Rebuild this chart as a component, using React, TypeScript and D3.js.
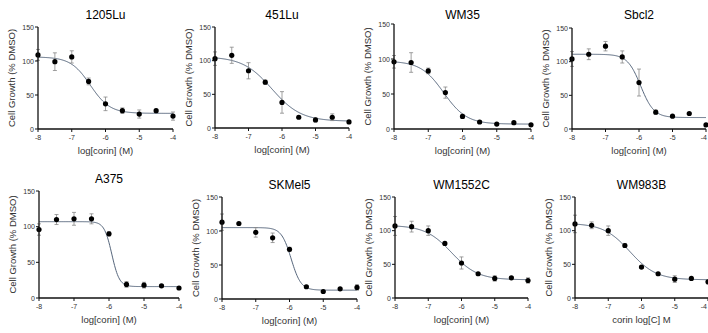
import React from 'react';
import * as d3 from 'd3';

// log concentrations (M)
const doses = [-8, -7.5, -7, -6.5, -6, -5.5, -5, -4.5, -4];
const xTicks = [-8, -7, -6, -5, -4];
const yTicks = [0, 50, 100, 150];

const cellLines = ['1205Lu', '451Lu', 'WM35', 'Sbcl2', 'A375', 'SKMel5', 'WM1552C', 'WM983B'];
const xLabels = ['log[corin] (M)', 'log[corin] (M)', 'log[corin] (M)', 'log[corin] (M)',
  'log[corin] (M)', 'log[corin] (M)', 'log[corin] (M)', 'corin log[C] M'];

// mean growth (% DMSO) per dose
const means = [
  [109, 99, 106, 70, 37, 27, 22, 27, 19],
  [103, 108, 85, 68, 38, 16, 12, 16, 9],
  [96, 95, 83, 52, 18, 10, 7, 9, 6],
  [104, 111, 123, 107, 69, 25, 19, 23, 6],
  [96, 110, 111, 111, 90, 19, 18, 17, 14],
  [113, 111, 98, 90, 73, 18, 11, 15, 17],
  [107, 106, 100, 81, 52, 36, 29, 30, 26],
  [110, 108, 100, 78, 46, 36, 28, 29, 24],
];
// SEM
const errors = [
  [8, 13, 9, 5, 10, 4, 6, 2, 6],
  [10, 12, 12, 3, 16, 2, 3, 5, 2],
  [9, 14, 4, 8, 3, 2, 1, 1, 1],
  [11, 8, 7, 9, 20, 3, 1, 1, 1],
  [8, 7, 9, 7, 3, 4, 4, 2, 1],
  [12, 1, 7, 7, 3, 2, 1, 1, 4],
  [14, 8, 7, 2, 9, 2, 4, 2, 4],
  [13, 5, 7, 3, 2, 2, 5, 1, 3],
];
// 4-parameter fit: [top, bottom, logIC50, hill]
const fits = [
  [106, 23, -6.45, 1.5],
  [106, 10, -6.3, 1.0],
  [97, 7, -6.55, 1.3],
  [111, 17, -5.95, 2.2],
  [107, 16, -5.92, 4.0],
  [105, 13, -5.95, 3.0],
  [108, 27, -6.3, 1.1],
  [111, 27, -6.35, 1.1],
];

// plot area boxes [left, right, top, bottom]
const boxes = [
  [38, 173, 27, 129],
  [215, 349, 27, 128],
  [394, 531, 24, 129],
  [572, 706, 28, 129],
  [39, 179, 191, 298],
  [222, 357, 197, 299],
  [395, 528, 197, 298],
  [575, 708, 197, 298],
];

const font = 'Liberation Sans, Arial, sans-serif';

function Panel({ i }: { i: number }) {
  const [L, R, T, B] = boxes[i];
  const x = d3.scaleLinear().domain([-8, -4]).range([L, R]);
  const y = d3.scaleLinear().domain([0, 150]).range([B, T]);
  const [top, bottom, ic50, hill] = fits[i];
  const curveX = d3.range(-8, -3.999, 0.02);
  const line = d3.line<number>()
    .x(d => x(d))
    .y(d => y(bottom + (top - bottom) / (1 + Math.pow(10, (d - ic50) * hill))));
  const cx = (L + R) / 2;
  const titleY = i < 4 ? 19 : (i === 4 ? 183 : 189);
  return (
    <g fontFamily={font}>
      <text x={cx} y={titleY} textAnchor="middle" fontSize={12}>{cellLines[i]}</text>
      <text transform={`translate(${L - 23},${(T + B) / 2}) rotate(-90)`} textAnchor="middle"
        fontSize={9.5} fill="#333">Cell Growth (% DMSO)</text>
      <text x={cx} y={B + 25} textAnchor="middle" fontSize={9.5} fill="#333">{xLabels[i]}</text>
      <path d={line(curveX) || ''} fill="none" stroke="#56667c" strokeWidth={1} />
      {doses.map((d, j) => (
        <g key={j}>
          <line x1={x(d)} x2={x(d)} y1={y(means[i][j] - errors[i][j])} y2={y(means[i][j] + errors[i][j])}
            stroke="#888" strokeWidth={0.8} />
          <line x1={x(d) - 2} x2={x(d) + 2} y1={y(means[i][j] - errors[i][j])} y2={y(means[i][j] - errors[i][j])}
            stroke="#888" strokeWidth={0.8} />
          <line x1={x(d) - 2} x2={x(d) + 2} y1={y(means[i][j] + errors[i][j])} y2={y(means[i][j] + errors[i][j])}
            stroke="#888" strokeWidth={0.8} />
          <circle cx={x(d)} cy={y(means[i][j])} r={2.6} fill="#000" />
        </g>
      ))}
      <line x1={L} x2={L} y1={T} y2={B} stroke="#111" strokeWidth={1.3} />
      <line x1={L} x2={R} y1={B} y2={B} stroke="#111" strokeWidth={1.3} />
      {yTicks.map(t => (
        <g key={t}>
          <line x1={L - 3} x2={L} y1={y(t)} y2={y(t)} stroke="#111" strokeWidth={1} />
          <text x={L - 4} y={y(t) + 2.5} textAnchor="end" fontSize={7} fill="#333">{t}</text>
        </g>
      ))}
      {xTicks.map(t => {
        const edge = x(t) + 5 > 708;
        return (
          <g key={t}>
            <line x1={x(t)} x2={x(t)} y1={B} y2={B + 3} stroke="#111" strokeWidth={1} />
            <text x={edge ? 707 : x(t)} y={B + 11} textAnchor={edge ? 'end' : 'middle'} fontSize={7} fill="#333">{t}</text>
          </g>
        );
      })}
    </g>
  );
}

export default function App() {
  return (
    <svg width={708} height={333} style={{ position: 'absolute', left: 0, top: 0, background: '#fff' }}>
      <rect width={708} height={333} fill="#fff" />
      {cellLines.map((_, i) => <Panel key={i} i={i} />)}
    </svg>
  );
}
